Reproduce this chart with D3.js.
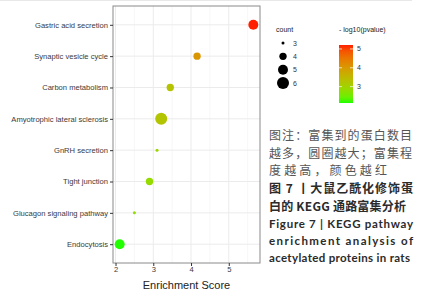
<!DOCTYPE html>
<html>
<head>
<meta charset="utf-8">
<script src="https://cdn.jsdelivr.net/npm/d3@7"></script>
<style>
  body { margin: 0; background: #fff; }
  svg { display: block; }
</style>
</head>
<body>
<div id="chart"></div>
<script>
// pathway terms, top to bottom
let pathways = ["Gastric acid secretion", "Synaptic vesicle cycle", "Carbon metabolism",
    "Amyotrophic lateral sclerosis", "GnRH secretion", "Tight junction",
    "Glucagon signaling pathway", "Endocytosis"];
let enrichScore = [5.65, 4.16, 3.45, 3.21, 3.10, 2.90, 2.50, 2.11];
let counts = [5, 4, 4, 6, 3, 4, 3, 5];
let logP = [5.21, 4.05, 3.3, 3.25, 2.95, 2.85, 2.8, 2.13];

let xTicks = [2, 3, 4, 5];
let xMinor = [2.5, 3.5, 4.5, 5.5];
let countLegend = [3, 4, 5, 6];
let colorTicks = [3, 4, 5];

let captionCn = ["图注：富集到的蛋白数目", "越多，圆圈越大；富集程", "度越高，颜色越红"];
let captionBold = ["图 7 丨大鼠乙酰化修饰蛋", "白的 KEGG 通路富集分析"];
let captionEn = ["Figure 7  |  KEGG pathway", "enrichment analysis of", "acetylated proteins in rats"];

let width = 423, height = 300;
let panel = {left: 113, right: 260, top: 6, bottom: 263};
let font = "'Liberation Sans', Arial, sans-serif";

let svg = d3.select("#chart").append("svg")
    .attr("width", width)
    .attr("height", height);

svg.append("line")
    .attr("x1", 0).attr("x2", 412).attr("y1", 0.5).attr("y2", 0.5)
    .attr("stroke", "#e8e8e8");

// scales
let xExt = d3.extent(enrichScore);
let pad = (xExt[1] - xExt[0]) * 0.05;
let x = d3.scaleLinear()
    .domain([xExt[0] - pad, xExt[1] + pad])
    .range([panel.left, panel.right]);

let y = d3.scalePoint()
    .domain(pathways)
    .range([panel.top, panel.bottom])
    .padding(0.6);

let r = d3.scaleRadial()
    .domain([3, 6])
    .range([1.5, 6]);

let pExt = d3.extent(logP);
let color = d3.scaleLinear()
    .domain(pExt)
    .range(["#22ff00", "#ff2000"])
    .interpolate(d3.interpolateLab);

// grid
let grid = svg.append("g");
grid.selectAll(".minor").data(xMinor).enter().append("line")
    .attr("x1", d => x(d)).attr("x2", d => x(d))
    .attr("y1", panel.top).attr("y2", panel.bottom)
    .attr("stroke", "#f2f2f2").attr("stroke-width", 0.6);
grid.selectAll(".major").data(xTicks).enter().append("line")
    .attr("x1", d => x(d)).attr("x2", d => x(d))
    .attr("y1", panel.top).attr("y2", panel.bottom)
    .attr("stroke", "#ebebeb").attr("stroke-width", 1);
grid.selectAll(".hline").data(pathways).enter().append("line")
    .attr("x1", panel.left).attr("x2", panel.right)
    .attr("y1", d => y(d)).attr("y2", d => y(d))
    .attr("stroke", "#ebebeb").attr("stroke-width", 1);

// points
svg.append("g").selectAll("circle")
    .data(pathways)
    .enter()
    .append("circle")
    .attr("cx", (d, i) => x(enrichScore[i]))
    .attr("cy", d => y(d))
    .attr("r", (d, i) => r(counts[i]))
    .attr("fill", (d, i) => color(logP[i]));

// panel border
svg.append("rect")
    .attr("x", panel.left).attr("y", panel.top)
    .attr("width", panel.right - panel.left)
    .attr("height", panel.bottom - panel.top)
    .attr("fill", "none")
    .attr("stroke", "#8a8a8a")
    .attr("stroke-width", 1);

// axes
let yAxis = svg.append("g")
    .attr("transform", `translate(${panel.left},0)`)
    .call(d3.axisLeft(y).tickSize(3).tickPadding(2));
let xAxis = svg.append("g")
    .attr("transform", `translate(0,${panel.bottom})`)
    .call(d3.axisBottom(x).tickValues(xTicks).tickFormat(d3.format("d")).tickSize(3).tickPadding(1));
[yAxis, xAxis].forEach(a => {
    a.select(".domain").remove();
    a.selectAll(".tick line").attr("stroke", "#333");
    a.selectAll("text")
        .style("font-family", font)
        .style("font-size", "7.6px")
        .attr("fill", "#3a3a3a");
});

svg.append("text")
    .attr("x", (panel.left + panel.right) / 2)
    .attr("y", 289)
    .attr("text-anchor", "middle")
    .style("font-family", font)
    .style("font-size", "11px")
    .attr("fill", "#222")
    .text("Enrichment Score");

// count legend
let sizeLeg = svg.append("g");
sizeLeg.append("text")
    .attr("x", 276).attr("y", 32)
    .style("font-family", font).style("font-size", "7px")
    .attr("fill", "#222")
    .text("count");
let legY = d3.scalePoint().domain(countLegend).range([43, 83]);
sizeLeg.selectAll("circle").data(countLegend).enter().append("circle")
    .attr("cx", 283).attr("cy", d => legY(d))
    .attr("r", d => r(d))
    .attr("fill", "#000");
sizeLeg.selectAll(".lab").data(countLegend).enter().append("text")
    .attr("x", 293).attr("y", d => legY(d) + 2.5)
    .style("font-family", font).style("font-size", "7px")
    .attr("fill", "#333")
    .text(d => d);

// colour legend
let barX = 339, barW = 14;
let cy = d3.scaleLinear().domain(pExt).range([103, 45]);
let defs = svg.append("defs");
let grad = defs.append("linearGradient")
    .attr("id", "pgrad")
    .attr("x1", "0%").attr("y1", "100%")
    .attr("x2", "0%").attr("y2", "0%");
d3.range(0, 1.0001, 0.1).forEach(t => {
    grad.append("stop")
        .attr("offset", (t * 100) + "%")
        .attr("stop-color", color(pExt[0] + t * (pExt[1] - pExt[0])));
});
let colLeg = svg.append("g");
colLeg.append("text")
    .attr("x", barX).attr("y", 32)
    .style("font-family", font).style("font-size", "7px")
    .attr("fill", "#222")
    .text("- log10(pvalue)");
colLeg.append("rect")
    .attr("x", barX).attr("y", cy(pExt[1]))
    .attr("width", barW).attr("height", cy(pExt[0]) - cy(pExt[1]))
    .attr("fill", "url(#pgrad)");
colorTicks.forEach(t => {
    colLeg.append("line")
        .attr("x1", barX).attr("x2", barX + 3)
        .attr("y1", cy(t)).attr("y2", cy(t))
        .attr("stroke", "#fff").attr("stroke-width", 0.7);
    colLeg.append("line")
        .attr("x1", barX + barW - 3).attr("x2", barX + barW)
        .attr("y1", cy(t)).attr("y2", cy(t))
        .attr("stroke", "#fff").attr("stroke-width", 0.7);
    colLeg.append("text")
        .attr("x", barX + barW + 4).attr("y", cy(t) + 2.5)
        .style("font-family", font).style("font-size", "7px")
        .attr("fill", "#333")
        .text(t);
});

// caption
let capX = 269;
let cnWidths = [143, 143, 118];
captionCn.forEach((line, i) => {
    svg.append("text")
        .attr("x", capX).attr("y", 140 + i * 17.5)
        .attr("textLength", cnWidths[i])
        .attr("lengthAdjust", "spacing")
        .style("font-family", "'Noto Sans CJK SC', sans-serif")
        .style("font-size", "12px")
        .attr("fill", "#555")
        .text(line);
});
let boldWidths = [144, 137];
captionBold.forEach((line, i) => {
    svg.append("text")
        .attr("x", capX).attr("y", 192.5 + i * 18)
        .attr("textLength", boldWidths[i])
        .attr("lengthAdjust", "spacing")
        .style("font-family", "'Noto Sans CJK SC', sans-serif")
        .style("font-size", "12px")
        .style("font-weight", "bold")
        .attr("fill", "#2b2b2b")
        .text(line);
});
let enWidths = [144, 144, 141];
captionEn.forEach((line, i) => {
    svg.append("text")
        .attr("x", capX).attr("y", 228 + i * 17)
        .attr("textLength", enWidths[i])
        .attr("lengthAdjust", "spacing")
        .style("font-family", "Lato, 'Open Sans', sans-serif")
        .style("font-size", "11.5px")
        .style("font-weight", "bold")
        .attr("fill", "#2b2b2b")
        .text(line);
});
</script>
</body>
</html>
